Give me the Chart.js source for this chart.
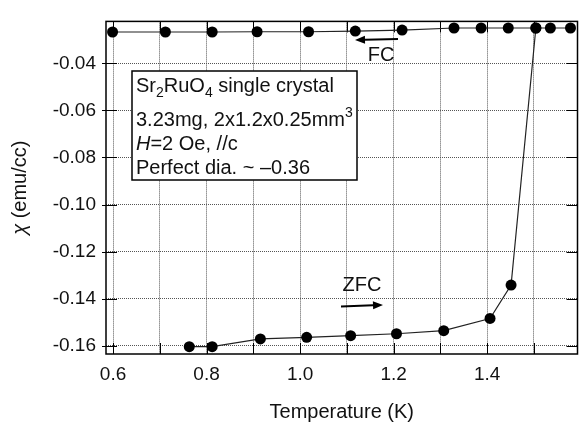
<!DOCTYPE html>
<html>
<head>
<meta charset="utf-8">
<script src="https://cdn.jsdelivr.net/npm/chart.js@4.4.1/dist/chart.umd.min.js"></script>
<style>
  html, body { margin: 0; padding: 0; background: #fff; }
  #wrap { width: 583px; height: 426px; }
</style>
</head>
<body>
<div id="wrap"><canvas id="chi" width="583" height="426"></canvas></div>
<script>
// FC (field cooled) curve
var fcTemp = [0.599, 0.712, 0.812, 0.908, 1.018, 1.118, 1.218, 1.329, 1.387, 1.445, 1.504, 1.535, 1.578];
var fcChi = [-0.0267, -0.0267, -0.0267, -0.0266, -0.0266, -0.0263, -0.0259, -0.0250, -0.0250, -0.0250, -0.0250, -0.0250, -0.0250];

// ZFC (zero field cooled) curve
var zfcTemp = [0.763, 0.812, 0.915, 1.014, 1.108, 1.206, 1.307, 1.406, 1.451, 1.504];
var zfcChi = [-0.1604, -0.1604, -0.1571, -0.1564, -0.1557, -0.1549, -0.1536, -0.1484, -0.1342, -0.0250];

// axis ticks
var xTicks = [0.6, 0.7, 0.8, 0.9, 1.0, 1.1, 1.2, 1.3, 1.4, 1.5];
var xLabels = ['0.6', '', '0.8', '', '1.0', '', '1.2', '', '1.4', ''];
var yTicks = [-0.16, -0.14, -0.12, -0.10, -0.08, -0.06, -0.04];
var yLabels = ['-0.16', '-0.14', '-0.12', '-0.10', '-0.08', '-0.06', '-0.04'];

var FONT = "'Liberation Sans', Arial, sans-serif";

function toPoints(xs, ys) {
  return xs.map(function (x, i) { return { x: x, y: ys[i] }; });
}

// draw a run of text pieces: [text, size, dy, italic]
function drawRuns(ctx, x, y, runs) {
  runs.forEach(function (r) {
    ctx.font = (r[3] ? 'italic ' : '') + r[1] + 'px ' + FONT;
    ctx.fillText(r[0], x, y + r[2]);
    x += ctx.measureText(r[0]).width;
  });
}

function arrow(ctx, x1, y1, x2, y2) {
  var a = Math.atan2(y2 - y1, x2 - x1);
  var hl = 10, hw = 4;
  ctx.beginPath();
  ctx.moveTo(x1, y1);
  ctx.lineTo(x2 - hl * Math.cos(a), y2 - hl * Math.sin(a));
  ctx.lineWidth = 2;
  ctx.strokeStyle = '#000';
  ctx.stroke();
  ctx.beginPath();
  ctx.moveTo(x2, y2);
  ctx.lineTo(x2 - hl * Math.cos(a) + hw * Math.sin(a), y2 - hl * Math.sin(a) - hw * Math.cos(a));
  ctx.lineTo(x2 - hl * Math.cos(a) - hw * Math.sin(a), y2 - hl * Math.sin(a) + hw * Math.cos(a));
  ctx.closePath();
  ctx.fillStyle = '#000';
  ctx.fill();
}

// frame, inner tick marks, y title, notes
var decor = {
  id: 'decor',
  beforeDatasetsDraw: function (chart) {
    var ctx = chart.ctx, a = chart.chartArea;
    var xs = chart.scales.x, ys = chart.scales.y;
    ctx.save();
    ctx.strokeStyle = '#000';
    ctx.lineWidth = 1;
    ctx.beginPath();
    xTicks.forEach(function (v) {
      var px = Math.round(xs.getPixelForValue(v)) + 0.5;
      ctx.moveTo(px, a.bottom); ctx.lineTo(px, a.bottom - 11);
      ctx.moveTo(px, a.top); ctx.lineTo(px, a.top + 11);
    });
    yTicks.forEach(function (v) {
      var py = Math.round(ys.getPixelForValue(v)) + 0.5;
      ctx.moveTo(a.left - 4, py); ctx.lineTo(a.left + 11, py);
      ctx.moveTo(a.right, py); ctx.lineTo(a.right - 11, py);
    });
    ctx.stroke();
    ctx.lineWidth = 1.5;
    ctx.strokeRect(a.left, a.top, a.right - a.left, a.bottom - a.top);

    // y axis title
    ctx.fillStyle = '#111';
    ctx.textBaseline = 'middle';
    ctx.translate(20, (a.top + a.bottom) / 2);
    ctx.rotate(-Math.PI / 2);
    ctx.font = 'italic 20px ' + FONT;
    var w1 = ctx.measureText('\u03c7').width;
    ctx.font = '20px ' + FONT;
    var w2 = ctx.measureText(' (emu/cc)').width;
    var sx = -(w1 + w2) / 2;
    drawRuns(ctx, sx, 0, [['\u03c7', 20, 0, true], [' (emu/cc)', 20, 0]]);
    ctx.restore();
  },
  afterDatasetsDraw: function (chart) {
    var ctx = chart.ctx;
    ctx.save();
    // info box
    ctx.fillStyle = '#fff';
    ctx.fillRect(132, 71, 225, 109);
    ctx.strokeStyle = '#000';
    ctx.lineWidth = 1.5;
    ctx.strokeRect(132, 71, 225, 109);
    ctx.fillStyle = '#111';
    ctx.textBaseline = 'alphabetic';
    drawRuns(ctx, 136, 92, [['Sr', 20, 0], ['2', 14, 5], ['RuO', 20, 0], ['4', 14, 5], [' single crystal', 20, 0]]);
    drawRuns(ctx, 136, 126, [['3.23mg, 2x1.2x0.25mm', 20, 0], ['3', 14, -9]]);
    drawRuns(ctx, 136, 150, [['H', 20, 0, true], ['=2 Oe, //c', 20, 0]]);
    drawRuns(ctx, 136, 174, [['Perfect dia. ~ \u20130.36', 20, 0]]);

    // curve labels
    ctx.textAlign = 'center';
    ctx.textBaseline = 'middle';
    ctx.font = '20px ' + FONT;
    ctx.fillText('FC', 381, 55);
    ctx.fillText('ZFC', 362, 285);
    arrow(ctx, 398, 39, 355, 40);
    arrow(ctx, 341, 306.5, 383, 305);
    ctx.restore();
  }
};

Chart.defaults.font.family = FONT;
Chart.defaults.font.size = 19;
Chart.defaults.color = '#111';

var ctx = document.getElementById('chi').getContext('2d');
var chart = new Chart(ctx, {
  type: 'scatter',
  data: {
    datasets: [{
      label: 'FC',
      data: toPoints(fcTemp, fcChi),
      showLine: true,
      borderColor: '#222',
      borderWidth: 1.2,
      backgroundColor: '#000',
      pointBackgroundColor: '#000',
      pointBorderWidth: 0,
      pointRadius: 5.5
    }, {
      label: 'ZFC',
      data: toPoints(zfcTemp, zfcChi),
      showLine: true,
      borderColor: '#222',
      borderWidth: 1.2,
      backgroundColor: '#000',
      pointBackgroundColor: '#000',
      pointBorderWidth: 0,
      pointRadius: 5.5
    }]
  },
  options: {
    responsive: false,
    animation: false,
    layout: { padding: { top: 9, right: 1, left: 0, bottom: 0 } },
    plugins: {
      legend: { display: false },
      tooltip: { enabled: false }
    },
    scales: {
      x: {
        type: 'linear',
        min: 0.585,
        max: 1.593,
        afterBuildTicks: function (s) { s.ticks = xTicks.map(function (v) { return { value: v }; }); },
        afterFit: function (s) { s.height = 72; },
        grid: { color: '#555', lineWidth: 1, drawTicks: false },
        border: { display: false, dash: [1, 1] },
        ticks: {
          padding: 9,
          maxRotation: 0,
          autoSkip: false,
          callback: function (v, i) { return xLabels[i]; }
        },
        title: {
          display: true,
          text: 'Temperature (K)',
          font: { size: 20 },
          padding: { top: 0, bottom: 2 }
        }
      },
      y: {
        type: 'linear',
        min: -0.1635,
        max: -0.0222,
        afterBuildTicks: function (s) { s.ticks = yTicks.map(function (v) { return { value: v }; }); },
        afterFit: function (s) { s.width = 106; },
        grid: { color: '#555', lineWidth: 1, drawTicks: false },
        border: { display: false, dash: [1, 1] },
        ticks: {
          padding: 10,
          autoSkip: false,
          callback: function (v, i) { return yLabels[i]; }
        }
      }
    }
  },
  plugins: [decor]
});
</script>
</body>
</html>
